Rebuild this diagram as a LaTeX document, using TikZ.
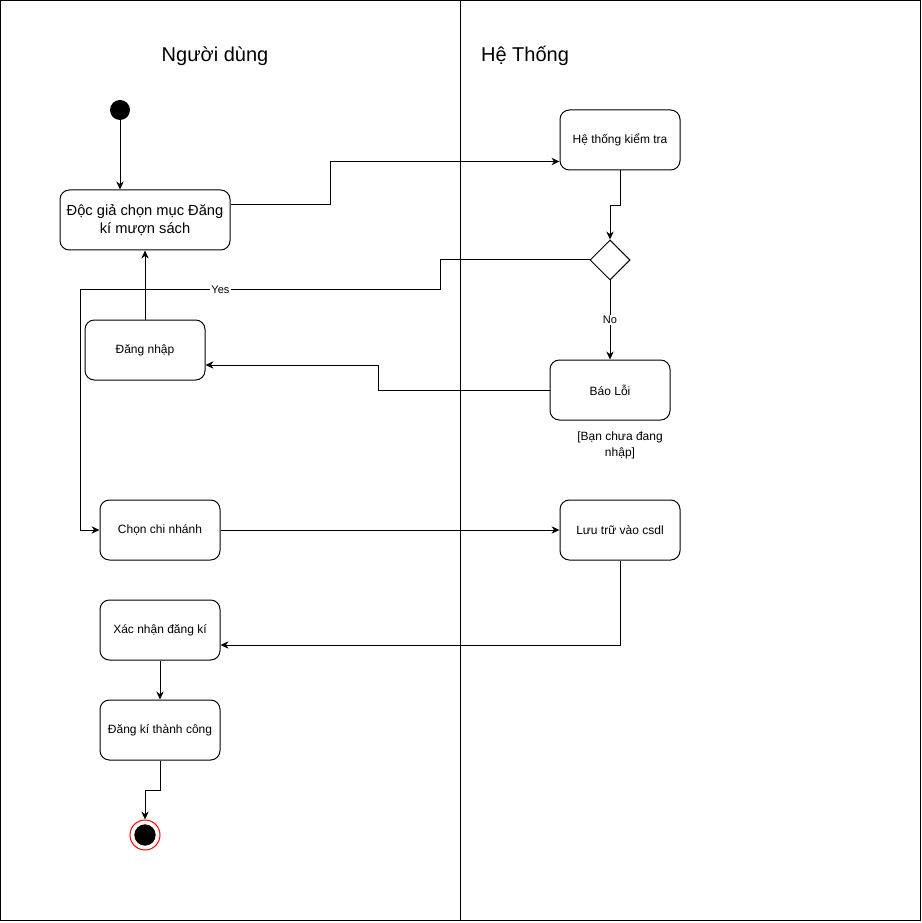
\documentclass[tikz,border=0pt]{standalone}
\usepackage{fontspec}
\setmainfont{Liberation Sans}
\usetikzlibrary{arrows.meta,calc,shapes.geometric}
\begin{document}
\begin{tikzpicture}[x=0.75pt,y=-0.75pt,
  every path/.style={line width=0.75pt},
  act/.style={draw,rounded corners=7pt,minimum width=90pt,minimum height=45pt,
    align=center,font=\fontsize{9}{11}\selectfont,inner sep=2pt},
  flow/.style={-{Stealth[length=6pt,width=5.5pt]}},
  lbl/.style={fill=white,inner sep=1pt,font=\fontsize{8.25}{10}\selectfont},
  title/.style={font=\fontsize{15}{18}\selectfont}]
\useasboundingbox (0,0) rectangle (921,923);
% swimlane frame
\draw (0.5,0.5) rectangle (920.5,920.5);
\draw (460.5,0.5) -- (460.5,920.5);
\node[title] (t1) at (215,56) {Người dùng};
\node[title] (t2) at (525,56) {Hệ Thống};

% nodes
\node[circle,fill=black,minimum size=15pt,inner sep=0pt] (start) at (120,110) {};
\node[act,minimum width=127.5pt,font=\fontsize{11}{14}\selectfont] (A) at (145,220) {Độc giả chọn mục Đăng\\kí mượn sách};
\node[act] (B) at (620,140) {Hệ thống kiểm tra};
\node[diamond,draw,minimum width=30pt,minimum height=30pt,inner sep=0pt] (D) at (610,260) {};
\node[act] (E) at (610,390) {Báo Lỗi};
\node[align=center,font=\fontsize{9}{12}\selectfont] (note) at (620,445) {[Bạn chưa đang\\nhập]};
\node[act] (L) at (145,350) {Đăng nhập};
\node[act] (C) at (160,530) {Chọn chi nhánh};
\node[act] (S) at (620,530) {Lưu trữ vào csdl};
\node[act] (X) at (160,630) {Xác nhận đăng kí};
\node[act] (K) at (160,730) {Đăng kí thành công};
\node[circle,draw=red,fill=white,minimum size=22.5pt,inner sep=0pt] (fin) at (145,835) {};
\node[circle,fill=black,minimum size=16pt,inner sep=0pt] (finc) at (145,835) {};

% connectors
\draw[flow] (start) -- (A.north -| start);
\coordinate (a1) at ($(A.north east)+(0,15)$);
\coordinate (b1) at ($(B.north west)+(0,52)$);
\draw[flow] (a1) -- ++(100,0) |- (b1);
\draw[flow] (B.south) -- ++(0,35) -| (D.north);
\draw[flow] (D.south) -- node[lbl] {No} (E.north);
\draw[flow] (D.west) -- (440,260) -- (440,290) -- node[lbl,pos=0.61] {Yes} (80,290) |- (C.west);
\draw[flow] (E.west) -- (378,390) |- ($(L.east)+(0,15)$);
\draw[flow] (L.north) -- (L.north |- A.south);
\draw[flow] (C.east) -- (S.west);
\draw[flow] (S.south) |- ($(X.east)+(0,15)$);
\draw[flow] (X.south) -- (K.north);
\draw[flow] (K.south) -- ++(0,30) -| (fin.north);
\end{tikzpicture}
\end{document}
